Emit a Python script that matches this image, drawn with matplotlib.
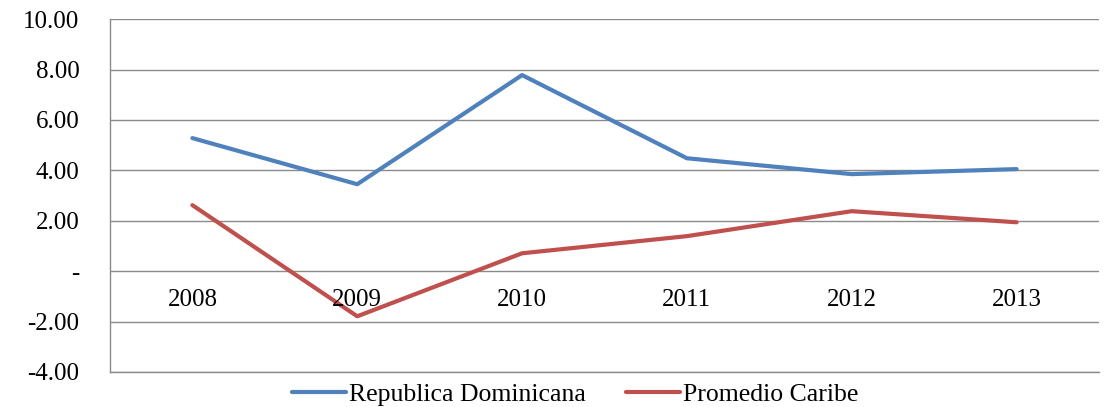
import matplotlib.pyplot as plt
from matplotlib.ticker import FuncFormatter

plt.rcParams['font.family'] = ['Liberation Serif', 'DejaVu Serif']

years = ['2008', '2009', '2010', '2011', '2012', '2013']
rep_dom = [5.28, 3.45, 7.78, 4.48, 3.85, 4.05]
caribe = [2.62, -1.79, 0.71, 1.39, 2.38, 1.94]

fig = plt.figure(figsize=(11.04, 4.07), dpi=100)
ax = fig.add_axes([0.0996, 0.086, 0.8959, 0.867])

x = range(len(years))
ax.plot(x, rep_dom, color='#4F81BD', lw=3, label='Republica Dominicana', solid_capstyle='round')
ax.plot(x, caribe, color='#C0504D', lw=3, label='Promedio Caribe', solid_capstyle='round')

ax.set_xlim(-0.5, len(years) - 0.5)
ax.set_ylim(-4, 10)
ax.set_yticks(range(-4, 11, 2))
ax.yaxis.set_major_formatter(FuncFormatter(lambda v, p: '-' if v == 0 else f'{v:.2f}'))
ax.tick_params(axis='y', length=0, pad=22, labelsize=18)
ax.set_xticks([])
ax.grid(axis='y', color='#8a8a8a', lw=1)
ax.set_axisbelow(True)
for s in ['top', 'right']:
    ax.spines[s].set_visible(False)
for s in ['left', 'bottom']:
    ax.spines[s].set_color('#8a8a8a')
    ax.spines[s].set_linewidth(1)

# category labels sit just under the zero line
for i, yr in enumerate(years):
    ax.annotate(yr, (i, 0), xytext=(0, -21), textcoords='offset points',
                ha='center', va='center', fontsize=18)

fig.legend(loc='center', bbox_to_anchor=(0.521, 0.03), ncol=2, frameon=False,
           fontsize=18.5, handlelength=2.1, handletextpad=0.1, columnspacing=1.6,
           borderpad=0, borderaxespad=0)

fig.savefig('out.png', dpi=100)
plt.close(fig)
